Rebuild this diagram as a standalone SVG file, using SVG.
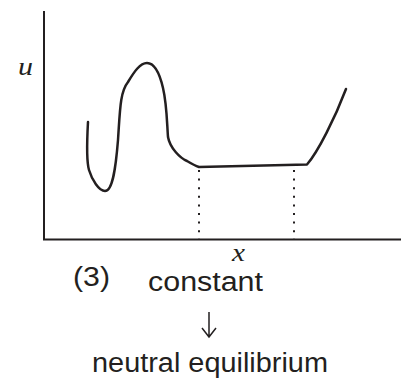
<svg xmlns="http://www.w3.org/2000/svg" width="401" height="382" viewBox="0 0 401 382">
<style>
.axis{stroke:#231f20;stroke-width:2;fill:none}
.curve{stroke:#231f20;stroke-width:2.5;fill:none;stroke-linecap:round;stroke-linejoin:round}
.dots{stroke:#231f20;stroke-width:2;fill:none;stroke-dasharray:2 6.6}
.lab{font-family:"Liberation Serif",serif;font-style:italic;font-size:25px;fill:#231f20}
.txt{font-family:"Liberation Sans",Arial,sans-serif;font-size:27px;fill:#231f20}
</style>
<rect width="401" height="382" fill="#fff"/>
<g id="axes">
<path class="axis" d="M44,11 V239.5 H401"/>
</g>
<g id="curve">
<path class="curve" d="M88,122 C87,140 86,160 89,170 C92,180 99,191 105,191 C113,191 116,165 118,140 C120,110 120,92 128,82 C134,72 140,63 147,63 C155,63 160,75 163,88 C167,105 167,125 168,137 C170,148 180,158 187,161 C192,164 196,166 199,167 L307,164.5 C318,152 335,118 346,89"/>
</g>
<g id="connectors">
<line class="dots" x1="199" y1="170" x2="199" y2="239"/>
<line class="dots" x1="294" y1="170" x2="294" y2="239"/>
</g>
<g id="labels">
<text class="lab" x="18" y="75" textLength="15" lengthAdjust="spacingAndGlyphs">u</text>
<text class="lab" x="232" y="261" textLength="13" lengthAdjust="spacingAndGlyphs">x</text>
<text class="txt" x="73" y="286" textLength="37" lengthAdjust="spacingAndGlyphs">(3)</text>
<text class="txt" x="148" y="291" textLength="115" lengthAdjust="spacingAndGlyphs">constant</text>
<text class="txt" x="92" y="372" textLength="236" lengthAdjust="spacingAndGlyphs">neutral equilibrium</text>
</g>
<g id="arrow">
<path d="M209,312 V336 M202,328 L209,337 L216,328" stroke="#231f20" stroke-width="1.5" fill="none"/>
</g>
</svg>
